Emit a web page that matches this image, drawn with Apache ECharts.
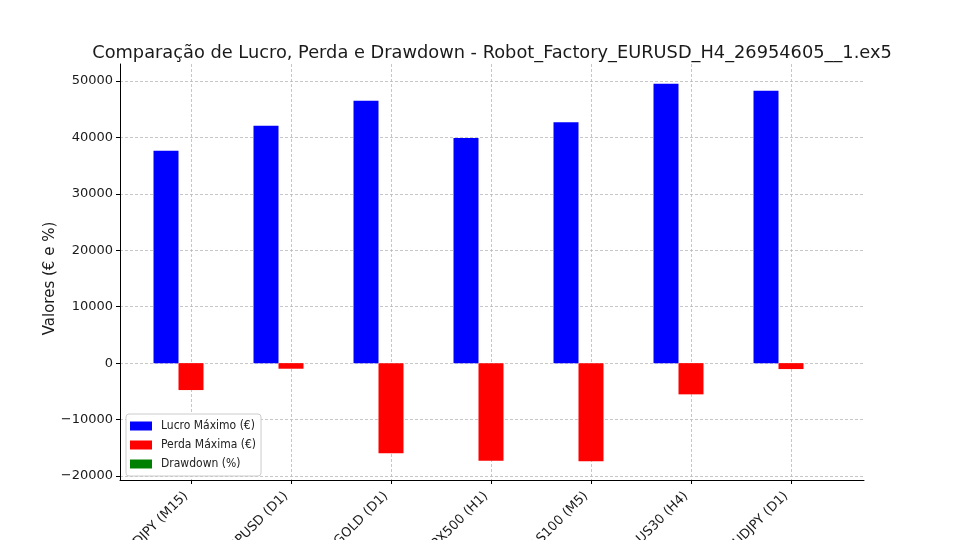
<!DOCTYPE html>
<html>
<head>
<meta charset="utf-8">
<script src="https://cdn.jsdelivr.net/npm/echarts@6/dist/echarts.min.js"></script>
<style>html,body{margin:0;padding:0;background:#fff;}#c{width:960px;height:540px;}</style>
</head>
<body>
<div id="c"></div>
<script>
const categories = ['USDJPY (M15)', 'GBPUSD (D1)', 'GOLD (D1)', 'SPX500 (H1)', 'NAS100 (M5)', 'US30 (H4)', 'AUDJPY (D1)'];
const lucroMaximo = [37640, 42070, 46500, 39890, 42670, 49510, 48270];
const perdaMaxima = [-4770, -990, -15990, -17300, -17400, -5530, -1050];
const drawdown = [0, 0, 0, 0, 0, 0, 0];
const yTickMin = -20000;
const yTickMax = 50000;
const yTickStep = 10000;
const seriesNames = ['Lucro Máximo (€)', 'Perda Máxima (€)', 'Drawdown (%)'];
const titleText = 'Comparação de Lucro, Perda e Drawdown - Robot_Factory_EURUSD_H4_26954605__1.ex5';
const yAxisTitle = 'Valores (€ e %)';

const FONT = 'DejaVu Sans';
const grid = {color: '#b9b9b9', type: [3, 2], width: 0.8};
const chart = echarts.init(document.getElementById('c'), null, {renderer: 'canvas'});

const mkSeries = (name, data, color) => ({
  name, type: 'bar', data, xAxisIndex: 3, yAxisIndex: 3,
  barWidth: 25, barGap: '0%', clip: false,
  itemStyle: {color}, emphasis: {disabled: true}, animation: false
});

const G = (o) => Object.assign({outerBoundsMode: 'none', containLabel: false}, o);

chart.setOption({
  animation: false,
  backgroundColor: '#ffffff',
  textStyle: {fontFamily: FONT},
  title: {
    text: titleText, left: 487, top: 39, textAlign: 'center',
    textStyle: {fontFamily: FONT, fontSize: 17.8, fontWeight: 'normal', color: '#1a1a1a'}
  },
  legend: {
    orient: 'vertical', left: 126, top: 414,
    data: seriesNames, icon: 'rect', itemWidth: 22, itemHeight: 9, itemGap: 5,
    padding: [5, 5, 5, 4], backgroundColor: '#ffffff', borderColor: '#cccccc', borderWidth: 1, borderRadius: 3,
    textStyle: {fontFamily: 'DejaVu Sans Condensed', fontSize: 12, color: '#222', lineHeight: 14, padding: [0, 0, 0, 4]},
    selectedMode: false
  },
  grid: [
    G({left: 120, right: 96, top: 64, bottom: 60}),
    G({left: 120, right: 96, top: 81, bottom: 64}),
    G({left: 191, right: 169, top: 64, bottom: 60}),
    G({left: 191, right: 169, top: 81, bottom: 64})
  ],
  xAxis: [
    {gridIndex: 0, type: 'value', min: 0, max: 1, axisLine: {show: true, lineStyle: {color: '#000', width: 1}},
     axisTick: {show: false}, axisLabel: {show: false}, splitLine: {show: false}},
    {gridIndex: 1, type: 'value', show: false},
    {gridIndex: 2, type: 'category', data: categories, boundaryGap: false,
     axisLine: {show: false},
     axisTick: {show: true, length: 4, inside: false, lineStyle: {color: '#000'}},
     axisLabel: {rotate: 45, margin: 9, padding: [0, 7, 0, 0], fontFamily: FONT, fontSize: 13, color: '#1a1a1a', interval: 0, hideOverlap: false},
     splitLine: {show: true, lineStyle: grid}},
    {gridIndex: 3, type: 'category', data: categories, boundaryGap: false, show: false}
  ],
  yAxis: [
    {gridIndex: 0, type: 'value', min: 0, max: 1, axisLine: {show: true, lineStyle: {color: '#000', width: 1}},
     axisTick: {show: false}, axisLabel: {show: false}, splitLine: {show: false}},
    {gridIndex: 1, type: 'value', min: yTickMin, max: yTickMax, interval: yTickStep,
     axisLine: {show: false},
     axisTick: {show: true, length: 4, lineStyle: {color: '#000'}},
     axisLabel: {fontFamily: FONT, fontSize: 13, color: '#1a1a1a', margin: 7,
       formatter: v => (v < 0 ? '\u2212' + Math.abs(v) : String(v))},
     splitLine: {show: true, lineStyle: grid},
     name: yAxisTitle, nameLocation: 'middle', nameRotate: 90, nameGap: 62, nameMoveOverlap: false,
     nameTextStyle: {fontFamily: FONT, fontSize: 15, color: '#1a1a1a'}},
    {gridIndex: 2, type: 'value', show: false},
    {gridIndex: 3, type: 'value', min: yTickMin, max: yTickMax, show: false}
  ],
  series: [
    mkSeries(seriesNames[0], lucroMaximo, '#0000ff'),
    mkSeries(seriesNames[1], perdaMaxima, '#ff0000'),
    mkSeries(seriesNames[2], drawdown, '#008000')
  ]
});
</script>
</body>
</html>
